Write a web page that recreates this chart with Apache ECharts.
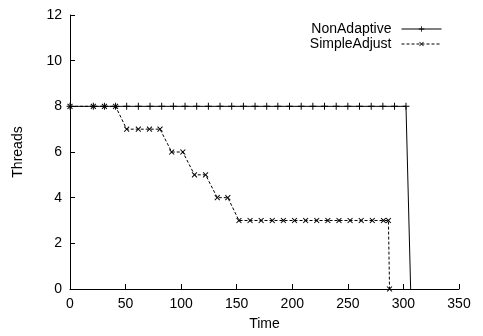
<!DOCTYPE html>
<html>
<head>
<meta charset="utf-8">
<script src="https://cdn.jsdelivr.net/npm/echarts@6/dist/echarts.min.js"></script>
<style>
  html, body { margin: 0; padding: 0; background: #fff; }
  #chart { width: 483px; height: 336px; }
</style>
</head>
<body>
<div id="chart"></div>
<script>
// times
var nonAdaptiveTime = [0, 21, 31, 41, 51, 61.5, 72, 82.5, 93, 103.5, 114, 124.5, 135, 145.5, 156, 166.5,
  177, 187, 197.5, 208, 218.5, 229, 239.5, 250, 260.5, 271, 281.5, 292, 302.3, 306.5];
var nonAdaptiveThreads = [8, 8, 8, 8, 8, 8, 8, 8, 8, 8, 8, 8, 8, 8, 8, 8,
  8, 8, 8, 8, 8, 8, 8, 8, 8, 8, 8, 8, 8, 0];

var simpleTime = [0, 21, 31, 41, 51, 61.5, 71.5, 81, 91.5, 101.5, 112, 122, 132.5, 142,
  152, 162, 172, 182, 192, 202, 212, 222, 232, 242, 252, 262, 272, 282, 286.5, 287.5];
var simpleThreads = [8, 8, 8, 8, 7, 7, 7, 7, 6, 6, 5, 5, 4, 4,
  3, 3, 3, 3, 3, 3, 3, 3, 3, 3, 3, 3, 3, 3, 3, 0];

var seriesNames = ['NonAdaptive', 'SimpleAdjust'];

var plusPath = 'path://M-0.7,-5H0.7V-0.7H5V0.7H0.7V5H-0.7V0.7H-5V-0.7H-0.7Z';

function pairs(xs, ys) {
  return xs.map(function (x, i) { return [x, ys[i]]; });
}

var chart = echarts.init(document.getElementById('chart'));
var font = 'Liberation Sans, Arial, Helvetica, sans-serif';

var nonData = pairs(nonAdaptiveTime, nonAdaptiveThreads);
// the drop to zero has no visible mark
nonData[nonData.length - 1] = { value: nonData[nonData.length - 1], symbol: 'none' };

var option = {
  animation: false,
  grid: { left: 70, right: 24, top: 15, bottom: 43 },
  legend: {
    orient: 'vertical',
    right: 36,
    top: 17,
    align: 'right',
    itemWidth: 40,
    itemHeight: 7,
    itemGap: 1,
    lineStyle: { width: 1 },
    textStyle: { fontFamily: font, fontSize: 14, color: '#000', padding: [0, 5, 0, 0] },
    data: seriesNames
  },
  xAxis: {
    type: 'value',
    min: 0,
    max: 350,
    interval: 50,
    name: 'Time',
    nameLocation: 'middle',
    nameGap: 28,
    nameTextStyle: { fontFamily: font, fontSize: 14, color: '#000' },
    axisLine: { lineStyle: { color: '#000', width: 1 } },
    axisTick: { inside: true, length: 5, lineStyle: { color: '#000' } },
    axisLabel: { fontFamily: font, fontSize: 14, color: '#000', margin: 8 },
    splitLine: { show: false }
  },
  yAxis: {
    type: 'value',
    min: 0,
    max: 12,
    interval: 2,
    name: 'Threads',
    nameLocation: 'middle',
    nameGap: 45,
    nameTextStyle: { fontFamily: font, fontSize: 14, color: '#000' },
    axisLine: { show: true, lineStyle: { color: '#000', width: 1 } },
    axisTick: { show: true, inside: true, length: 5, lineStyle: { color: '#000' } },
    axisLabel: { fontFamily: font, fontSize: 14, color: '#000', margin: 8 },
    splitLine: { show: false }
  },
  series: [
    {
      name: seriesNames[0],
      type: 'line',
      data: nonData,
      symbol: plusPath,
      symbolSize: 7,
      showAllSymbol: true,
      itemStyle: { color: '#000' },
      lineStyle: { color: '#000', width: 1 }
    },
    {
      name: seriesNames[1],
      type: 'line',
      data: pairs(simpleTime, simpleThreads),
      symbol: plusPath,
      symbolRotate: 45,
      symbolSize: 7,
      showAllSymbol: true,
      itemStyle: { color: '#000' },
      lineStyle: { color: '#000', width: 1, type: [3, 2] }
    }
  ]
};

chart.setOption(option);
</script>
</body>
</html>
